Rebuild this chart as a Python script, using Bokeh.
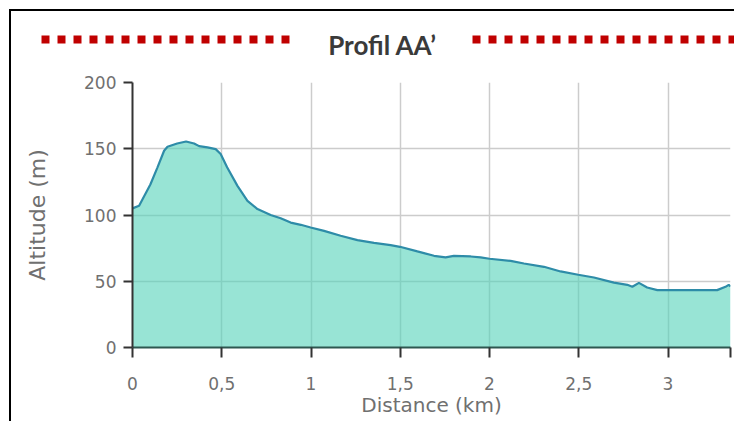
from bokeh.plotting import figure
from bokeh.layouts import column, row
from bokeh.models import Range1d, FixedTicker, CustomJSTickFormatter
from bokeh.core.properties import value
from bokeh.embed import file_html
from bokeh.resources import INLINE

# ---- data ----
title_text = "Profil AA\u2019"
x_label = "Distance (km)"
y_label = "Altitude (m)"

distance_km = [0.0, 0.037, 0.1, 0.14, 0.177, 0.196, 0.25, 0.3, 0.345, 0.373, 0.42, 0.466,
               0.494, 0.53, 0.588, 0.644, 0.7, 0.774, 0.83, 0.886, 0.943, 0.998, 1.073,
               1.166, 1.26, 1.353, 1.446, 1.498, 1.596, 1.689, 1.754, 1.8, 1.895, 1.95,
               2.0, 2.118, 2.193, 2.305, 2.398, 2.497, 2.585, 2.697, 2.772, 2.8, 2.837,
               2.883, 2.94, 3.07, 3.275, 3.322, 3.34, 3.35]
altitude_m = [105, 107, 123, 136, 148.5, 151.5, 154, 155.5, 154, 152, 151, 149.7,
              146, 136, 122, 110.7, 104.5, 100, 97.6, 94.3, 92.6, 90.6, 88,
              84.3, 81, 79, 77.3, 76, 72.5, 69.2, 68, 69.2, 68.7, 68,
              67, 65.4, 63.4, 60.9, 57.4, 54.9, 52.8, 49, 47.3, 45.8, 48.8,
              45.3, 43.3, 43.3, 43.3, 45.8, 47.3, 46]
x_ticks = [0, 0.5, 1, 1.5, 2, 2.5, 3, 3.35]
y_ticks = [0, 50, 100, 150, 200]
x_max = 3.35
y_max = 200

W = 723
HEAD_H = 55
MAIN_H = 355

# ---- header: title with red dotted rules ----
head = figure(width=W, height=HEAD_H, output_backend="svg", toolbar_location=None,
              x_range=Range1d(0, W), y_range=Range1d(HEAD_H, 0),
              min_border=0, outline_line_color=None)
head.axis.visible = False
head.grid.visible = False
head.segment(x0=[30, 461], y0=[28, 28], x1=[280, 727], y1=[28, 28],
             line_color="#C00000", line_width=8, line_dash="8 8", line_cap="butt")
head.text(x=[371], y=[33], text=[title_text], text_font=value("Lato"),
          text_font_style="bold", text_font_size="26px", text_color="#3a3a3a",
          text_align="center", text_baseline="alphabetic")

# ---- main chart ----
p = figure(width=W, height=MAIN_H, output_backend="svg", toolbar_location=None,
           x_range=Range1d(0, x_max), y_range=Range1d(0, y_max),
           min_border_left=121, min_border_right=4, min_border_top=16,
           min_border_bottom=74, outline_line_color=None)

p.varea(x=distance_km, y1=[0] * len(distance_km), y2=altitude_m,
        fill_color="#53D2B9", fill_alpha=0.6)
p.line(distance_km, altitude_m, line_color="#2E8CA8", line_width=2.2)

p.xaxis.ticker = FixedTicker(ticks=x_ticks)
p.yaxis.ticker = FixedTicker(ticks=y_ticks)
p.xaxis.formatter = CustomJSTickFormatter(
    code="if (tick > 3.2) { return ''; } return tick.toString().replace('.', ',');")
p.xaxis.minor_tick_line_color = None
p.yaxis.minor_tick_line_color = None

for ax in (p.xaxis, p.yaxis):
    ax.axis_label_text_font = "DejaVu Sans"
    ax.axis_label_text_font_size = "20px"
    ax.axis_label_text_font_style = "normal"
    ax.axis_label_text_color = "#707070"
    ax.major_label_text_font = "DejaVu Sans"
    ax.major_label_text_font_size = "17px"
    ax.major_label_text_color = "#707070"
    ax.major_tick_in = 0
    ax.major_tick_line_width = 2
    ax.major_tick_line_color = "#333333"
    ax.axis_line_width = 2

p.yaxis.axis_label_text_font_size = "22px"
p.xaxis.axis_label = x_label
p.yaxis.axis_label = y_label
p.xaxis.axis_line_color = "#2d5750"
p.yaxis.axis_line_color = "#333333"
p.xaxis.major_tick_out = 10
p.yaxis.major_tick_out = 9
p.xaxis.major_label_standoff = 19
p.yaxis.major_label_standoff = 7
p.xaxis.axis_label_standoff = 0
p.yaxis.axis_label_standoff = 31

p.grid.grid_line_color = "#cccccc"
p.grid.grid_line_width = 1.5

layout = column(row(head), p, spacing=0,
                styles={"border-left": "2px solid #000", "border-top": "2px solid #000",
                        "margin-left": "9px", "margin-top": "9px"})

open("out.html", "w").write(file_html(layout, INLINE))
